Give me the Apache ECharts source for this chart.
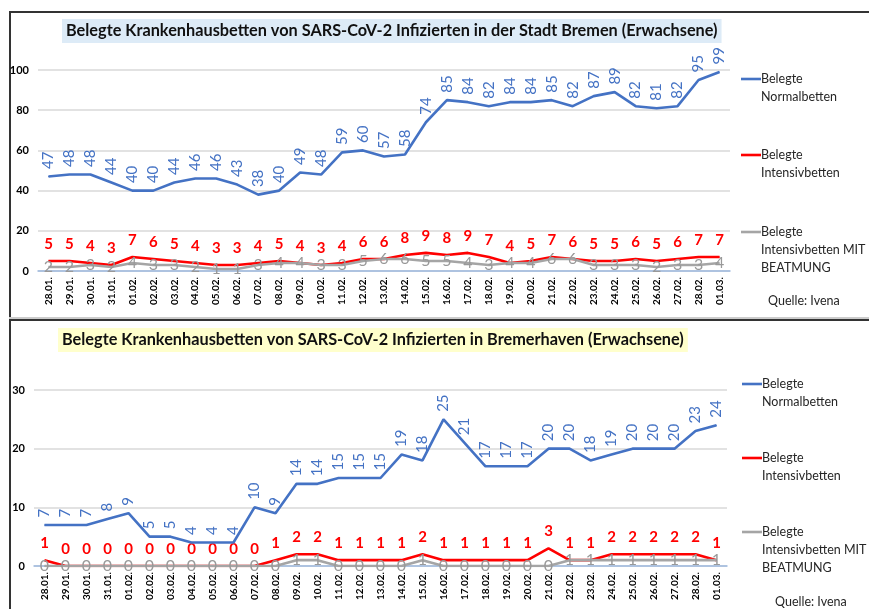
<!DOCTYPE html>
<html>
<head>
<meta charset="utf-8">
<script src="https://cdn.jsdelivr.net/npm/echarts@6/dist/echarts.min.js"></script>
<style>
  body { margin: 0; background: #fff; }
  #wrap { position: relative; width: 869px; height: 609px; overflow: hidden; }
  .panel { position: absolute; border-left: 2px solid #333; border-top: 2px solid #333; }
  #chart { position: absolute; left: 0; top: 0; width: 869px; height: 609px; }
</style>
</head>
<body>
<div id="wrap">
  <div class="panel" style="left:9px;top:11px;width:870px;height:304px;border-bottom:2px solid #333;"></div>
  <div style="position:absolute;left:9px;top:317px;width:870px;height:2px;background:#ccc;"></div>
  <div class="panel" style="left:9px;top:319px;width:870px;height:300px;"></div>
  <div id="chart"></div>
</div>
<script>
// Datum
var tage = ['28.01.', '29.01.', '30.01.', '31.01.', '01.02.', '02.02.', '03.02.', '04.02.', '05.02.', '06.02.',
	'07.02.', '08.02.', '09.02.', '10.02.', '11.02.', '12.02.', '13.02.', '14.02.', '15.02.', '16.02.',
	'17.02.', '18.02.', '19.02.', '20.02.', '21.02.', '22.02.', '23.02.', '24.02.', '25.02.', '26.02.',
	'27.02.', '28.02.', '01.03.'];

// Stadt Bremen
var hbNormal = [47, 48, 48, 44, 40, 40, 44, 46, 46, 43, 38, 40, 49, 48, 59, 60, 57, 58, 74, 85, 84, 82, 84, 84, 85, 82, 87, 89, 82, 81, 82, 95, 99];
var hbIntensiv = [5, 5, 4, 3, 7, 6, 5, 4, 3, 3, 4, 5, 4, 3, 4, 6, 6, 8, 9, 8, 9, 7, 4, 5, 7, 6, 5, 5, 6, 5, 6, 7, 7];
var hbBeatmung = [2, 2, 3, 2, 4, 3, 3, 2, 1, 1, 3, 4, 4, 3, 3, 5, 6, 6, 5, 5, 4, 3, 4, 4, 6, 6, 3, 3, 3, 2, 3, 3, 4];

// Bremerhaven
var bhvNormal = [7, 7, 7, 8, 9, 5, 5, 4, 4, 4, 10, 9, 14, 14, 15, 15, 15, 19, 18, 25, 21, 17, 17, 17, 20, 20, 18, 19, 20, 20, 20, 23, 24];
var bhvIntensiv = [1, 0, 0, 0, 0, 0, 0, 0, 0, 0, 0, 1, 2, 2, 1, 1, 1, 1, 2, 1, 1, 1, 1, 1, 3, 1, 1, 2, 2, 2, 2, 2, 1];
var bhvBeatmung = [0, 0, 0, 0, 0, 0, 0, 0, 0, 0, 0, 0, 1, 1, 0, 0, 0, 0, 1, 0, 0, 0, 0, 0, 0, 1, 1, 1, 1, 1, 1, 1, 1];

var FONT = 'Lato, "Open Sans", sans-serif';
var BLAU = '#4472C4', ROT = '#FF0000', GRAU = '#A5A5A5';

function xAchse(idx) {
	return {
		type: 'category', gridIndex: idx, data: tage, boundaryGap: true,
		axisTick: { show: false },
		axisLine: { lineStyle: { color: '#9DB9DF', width: 1.5 } },
		axisLabel: { rotate: 90, fontSize: 10, fontWeight: 'bold', color: '#000', fontFamily: FONT, margin: 6, interval: 0 }
	};
}
function yAchse(idx, max, step) {
	return {
		type: 'value', gridIndex: idx, min: 0, max: max, interval: step,
		axisLine: { show: false }, axisTick: { show: false },
		splitLine: { lineStyle: { color: '#D9D9D9', width: 1.5 } },
		axisLabel: { fontSize: 11, fontWeight: 'bold', color: '#000', fontFamily: FONT, margin: 9 }
	};
}
function linie(name, idx, data, farbe, label) {
	return {
		name: name, type: 'line', xAxisIndex: idx, yAxisIndex: idx, data: data,
		symbol: 'circle', symbolSize: 1, itemStyle: { color: farbe },
		lineStyle: { color: farbe, width: 2.6 },
		label: label, z: name === 'Normal' ? 3 : (name === 'Intensiv' ? 2 : 4), animation: false
	};
}
var lblBlau = { show: true, position: 'top', rotate: 90, align: 'left', verticalAlign: 'middle', distance: 7, color: BLAU, fontSize: 15, fontFamily: FONT };
var lblRot = { show: true, position: 'top', distance: 9, color: ROT, fontSize: 15, fontWeight: 'bold', fontFamily: FONT };
var lblGrau = { show: true, position: 'inside', color: '#999999', fontSize: 16, fontFamily: FONT };

function legende(x, yBlau, yRot, yGrau, xQuelle, yQuelle) {
	var teile = [];
	var eintraege = [[yBlau, BLAU, 'Belegte\nNormalbetten'], [yRot, ROT, 'Belegte\nIntensivbetten'], [yGrau, GRAU, 'Belegte\nIntensivbetten MIT\nBEATMUNG']];
	eintraege.forEach(function(e) {
		teile.push({ type: 'line', shape: { x1: x, y1: e[0], x2: x + 20, y2: e[0] }, style: { stroke: e[1], lineWidth: 2.6 } });
		teile.push({ type: 'text', x: x + 20, y: e[0] - 9, style: { text: e[2], fill: '#262626', font: '12.5px ' + FONT, lineHeight: 18 } });
	});
	teile.push({ type: 'text', x: xQuelle, y: yQuelle - 9, style: { text: 'Quelle: Ivena', fill: '#262626', font: '12.5px ' + FONT, lineHeight: 18 } });
	return teile;
}

var myChart = echarts.init(document.getElementById('chart'));
myChart.setOption({
	animation: false,
	title: [
		{ text: 'Belegte Krankenhausbetten von SARS-CoV-2 Infizierten in der Stadt Bremen (Erwachsene)', left: 62, top: 19,
			backgroundColor: '#DDEBF7', padding: [4, 4, 4, 4],
			textStyle: { fontSize: 16.3, fontWeight: 'bold', color: '#111', fontFamily: FONT } },
		{ text: 'Belegte Krankenhausbetten von SARS-CoV-2 Infizierten in Bremerhaven (Erwachsene)', left: 58, top: 328,
			backgroundColor: '#FFFFCC', padding: [4, 4, 4, 4],
			textStyle: { fontSize: 16.3, fontWeight: 'bold', color: '#111', fontFamily: FONT } }
	],
	grid: [
		{ left: 38, width: 692, top: 70, height: 201 },
		{ left: 34, width: 693, top: 390, height: 176 }
	],
	xAxis: [xAchse(0), xAchse(1)],
	yAxis: [yAchse(0, 100, 20), yAchse(1, 30, 10)],
	series: [
		linie('Normal', 0, hbNormal, BLAU, lblBlau),
		linie('Intensiv', 0, hbIntensiv, ROT, lblRot),
		linie('Beatmung', 0, hbBeatmung, GRAU, lblGrau),
		linie('Normal', 1, bhvNormal, BLAU, lblBlau),
		linie('Intensiv', 1, bhvIntensiv, ROT, lblRot),
		linie('Beatmung', 1, bhvBeatmung, GRAU, lblGrau)
	],
	graphic: legende(741, 79, 155, 232, 768, 301).concat(legende(742, 384, 458, 532, 775, 602))
});
</script>
</body>
</html>
